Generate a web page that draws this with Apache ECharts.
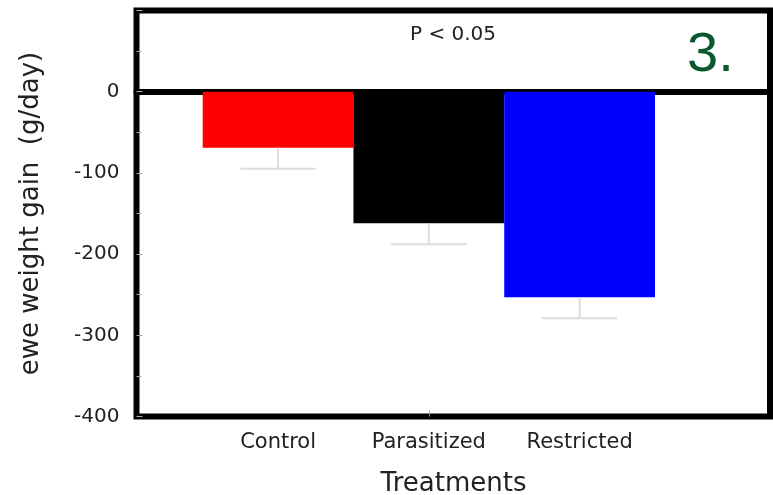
<!DOCTYPE html>
<html>
<head>
<meta charset="utf-8">
<script src="https://cdn.jsdelivr.net/npm/echarts@6/dist/echarts.min.js"></script>
<style>
html,body{margin:0;padding:0;background:#fff;}
#chart{width:773px;height:495px;}
</style>
</head>
<body>
<div id="chart"></div>
<script>
const categories = ['Control', 'Parasitized', 'Restricted'];
const gains = [-69, -162, -253];
const errors = [26, 26, 26];
const barColors = ['#ff0000', '#000000', '#0000ff'];
const yMin = -400, yMax = 100, yStep = 100;

const chart = echarts.init(document.getElementById('chart'));
const font = 'DejaVu Sans';

const option = {
  animation: false,
  backgroundColor: '#ffffff',
  grid: [
    {left: 136.5, top: 10.5, right: 3, bottom: 78.5, show: true, borderWidth: 6, borderColor: '#000', backgroundColor: 'transparent'},
    {left: 202.7, top: 10.5, right: 118, bottom: 78.5}
  ],
  xAxis: [
    {gridIndex: 0, type: 'value', min: 0, max: 1,
     axisLine: {show: true, onZero: true, lineStyle: {color: '#000', width: 6}},
     axisTick: {show: false}, axisLabel: {show: false}, splitLine: {show: false}},
    {gridIndex: 1, type: 'category', data: categories,
     axisLine: {show: false, onZero: false},
     axisTick: {show: true, inside: true, alignWithLabel: true, interval: function (i) { return i === 1; }, length: 6, lineStyle: {color: '#999'}},
     axisLabel: {margin: 16, fontFamily: font, fontSize: 21, color: '#222'},
     splitLine: {show: false}}
  ],
  yAxis: [
    {gridIndex: 0, type: 'value', min: yMin, max: yMax, interval: yStep,
     axisLine: {show: false},
     axisTick: {show: true, inside: true, length: 6, lineStyle: {color: '#aaa'}},
     minorTick: {show: true, splitNumber: 2, length: 5, lineStyle: {color: '#aaa'}},
     splitLine: {show: false},
     axisLabel: {showMaxLabel: false, margin: 17, fontFamily: font, fontSize: 20, color: '#222'},
     name: 'ewe weight gain  (g/day)', nameLocation: 'middle', nameGap: 92,
     nameTextStyle: {fontFamily: font, fontSize: 26, color: '#222'}},
    {gridIndex: 1, type: 'value', min: yMin, max: yMax, interval: yStep, show: false}
  ],
  series: [
    {type: 'bar', xAxisIndex: 1, yAxisIndex: 1, barCategoryGap: '0%',
     data: gains.map(function (v, i) { return {value: v, itemStyle: {color: barColors[i]}}; })},
    {type: 'custom', xAxisIndex: 1, yAxisIndex: 1, z: 3,
     data: gains.map(function (v, i) { return [i, v, v - errors[i]]; }),
     renderItem: function (params, api) {
       const top = api.coord([api.value(0), api.value(1)]);
       const low = api.coord([api.value(0), api.value(2)]);
       const hw = api.size([1, 0])[0] * 0.25;
       const st = {stroke: '#dcdcdc', lineWidth: 2};
       return {type: 'group', children: [
         {type: 'line', shape: {x1: top[0], y1: top[1], x2: low[0], y2: low[1]}, style: st},
         {type: 'line', shape: {x1: low[0] - hw, y1: low[1], x2: low[0] + hw, y2: low[1]}, style: st}
       ]};
     }}
  ],
  graphic: [
    {type: 'text', x: 453, y: 35, style: {text: 'P < 0.05', font: '20px "DejaVu Sans"', fill: '#222', textAlign: 'center', textVerticalAlign: 'middle'}},
    {type: 'text', x: 687, y: 56, style: {text: '3.', font: '56px "Liberation Sans"', fill: '#0b5a2e', textAlign: 'left', textVerticalAlign: 'middle'}},
    {type: 'text', x: 453.5, y: 484, style: {text: 'Treatments', font: '26px "DejaVu Sans"', fill: '#222', textAlign: 'center', textVerticalAlign: 'middle'}}
  ]
};
chart.setOption(option);
</script>
</body>
</html>
